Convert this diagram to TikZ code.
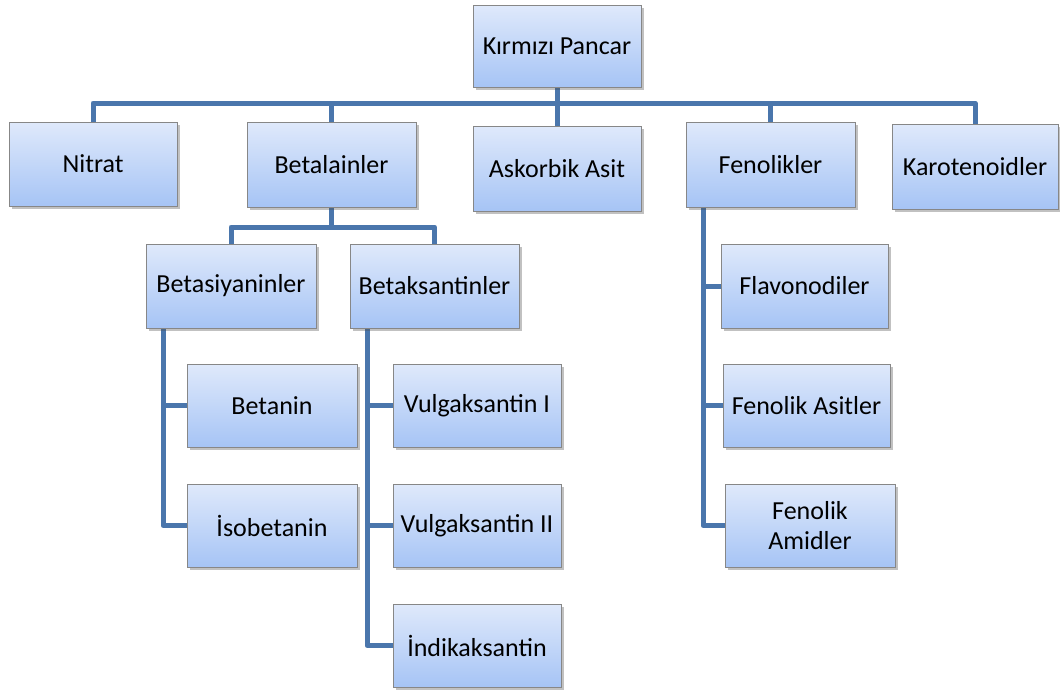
\documentclass[tikz,border=0pt]{standalone}
\usepackage{fontspec}
\setmainfont{Carlito}
\usetikzlibrary{shadows,calc,backgrounds}
\definecolor{linec}{RGB}{74,118,172}
\definecolor{boxtop}{RGB}{223,233,251}
\definecolor{boxbot}{RGB}{166,196,245}
\definecolor{boxedge}{RGB}{135,135,135}
\tikzset{
  box/.style={draw=boxedge, line width=0.8pt, top color=boxtop, bottom color=boxbot,
    inner sep=0pt, align=center, font=\fontsize{26}{29.5}\selectfont,
    drop shadow={shadow xshift=2.5pt, shadow yshift=-3pt, fill=black!70, opacity=0.35}},
  conn/.style={draw=linec, line width=5pt, line join=round}
}
\newcommand{\bx}[6]{\node[box, minimum width={(#4-#2)*1pt}, minimum height={(#5-#3)*1pt}]
  (#1) at ({(#2+#4)/2},{(#3+#5)/2}) {#6};}
\begin{document}
\begin{tikzpicture}[x=1pt,y=-1pt]
\useasboundingbox (0,0) rectangle (1060,691);
% coordinates for buses and trunks
\coordinate (bus) at (0,103);
\coordinate (bbus) at (0,227);
\coordinate (tA) at (163,0);
\coordinate (tB) at (367,0);
\coordinate (tC) at (703,0);
% boxes
\bx{root}{473}{5}{641}{87}{Kırmızı Pancar}
\bx{nitrat}{9}{122}{177}{206}{Nitrat}
\bx{betal}{247}{122}{416}{207}{Betalainler}
\bx{askor}{473}{126}{641}{211}{Askorbik Asit}
\bx{fenol}{686}{122}{855}{207}{Fenolikler}
\bx{karo}{892}{124}{1058}{209}{Karotenoidler}
\bx{betas}{146}{244}{316}{328}{Betasiyaninler}
\bx{betak}{350}{244}{519}{328}{Betaksantinler}
\bx{betanin}{187}{364}{357}{447}{Betanin}
\bx{isob}{187}{484}{357}{567}{İsobetanin}
\bx{vulg1}{393}{364}{561}{447}{Vulgaksantin I}
\bx{vulg2}{393}{484}{561}{567}{Vulgaksantin II}
\bx{indik}{393}{604}{561}{687}{İndikaksantin}
\bx{flav}{721}{244}{888}{328}{Flavonodiler}
\bx{fasit}{723}{364}{890}{447}{Fenolik Asitler}
\bx{famid}{725}{484}{895}{567}{Fenolik\\Amidler}
\begin{scope}[on background layer]
% top level connectors
\draw[conn] (nitrat.north) -- (nitrat.north |- bus) -- (karo.north |- bus) -- (karo.north);
\draw[conn] (root.south) -- (root.south |- bus);
\draw[conn] (betal.north |- bus) -- (betal.north);
\draw[conn] (askor.north |- bus) -- (askor.north);
\draw[conn] (fenol.north |- bus) -- (fenol.north);
% betalainler
\draw[conn] (betas.north) -- (betas.north |- bbus) -- (betak.north |- bbus) -- (betak.north);
\draw[conn] (betal.south) -- (betal.south |- bbus);
% betasiyaninler
\draw[conn] (tA |- betas.south) -- (tA |- isob.west) -- (isob.west);
\draw[conn] (tA |- betanin.west) -- (betanin.west);
% betaksantinler
\draw[conn] (tB |- betak.south) -- (tB |- indik.west) -- (indik.west);
\draw[conn] (tB |- vulg1.west) -- (vulg1.west);
\draw[conn] (tB |- vulg2.west) -- (vulg2.west);
% fenolikler
\draw[conn] (tC |- fenol.south) -- (tC |- famid.west) -- (famid.west);
\draw[conn] (tC |- flav.west) -- (flav.west);
\draw[conn] (tC |- fasit.west) -- (fasit.west);
\end{scope}
\end{tikzpicture}
\end{document}
